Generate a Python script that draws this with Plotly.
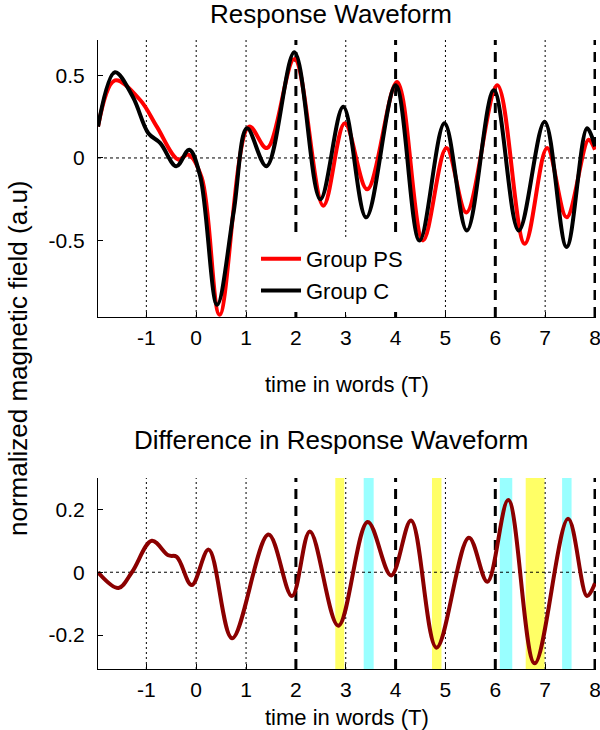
import plotly.graph_objects as go

# ---------------- data ----------------
c_x = [-1.97, -1.63, -1.27, -0.96, -0.72, -0.40, -0.14, 0.08, 0.42, 0.75, 1.02, 1.41,
       1.97, 2.49, 2.95, 3.41, 4.00, 4.48, 4.98, 5.43, 5.97, 6.47, 6.99, 7.43, 7.84, 8.00]
c_y = [0.19, 0.52, 0.37, 0.15, 0.09, -0.05, 0.05, -0.11, -0.89, -0.33, 0.18, -0.05,
       0.64, -0.25, 0.31, -0.36, 0.44, -0.50, 0.21, -0.44, 0.41, -0.44, 0.22, -0.54, 0.18, 0.07]

ps_x = [-1.97, -1.63, -1.12, -0.79, -0.36, -0.16, 0.11, 0.47, 1.06, 1.42, 1.97, 2.55,
        2.98, 3.43, 4.03, 4.55, 5.02, 5.42, 6.04, 6.59, 7.04, 7.43, 7.87, 8.00]
ps_y = [0.19, 0.47, 0.35, 0.19, -0.01, 0.02, -0.12, -0.95, 0.19, 0.06, 0.60, -0.29,
        0.21, -0.19, 0.46, -0.50, 0.06, -0.33, 0.44, -0.52, 0.06, -0.36, 0.11, 0.05]

diff_x = [-1.97, -1.56, -1.29, -0.89, -0.56, -0.39, -0.09, 0.25, 0.72, 1.45, 1.92, 2.28,
          2.85, 3.44, 3.91, 4.31, 4.82, 5.47, 5.84, 6.26, 6.79, 7.46, 7.84, 8.00]
diff_y = [0.0, -0.05, 0.0, 0.10, 0.054, 0.049, -0.041, 0.072, -0.21, 0.12, -0.076, 0.13,
          -0.17, 0.16, -0.01, 0.165, -0.24, 0.11, -0.03, 0.23, -0.29, 0.17, -0.076, -0.035]

yellow_bands = [(2.79, 2.97), (4.73, 4.92), (6.61, 6.99)]
cyan_bands = [(3.36, 3.56), (6.09, 6.34), (7.34, 7.53)]

x_ticks = [-1, 0, 1, 2, 3, 4, 5, 6, 7, 8]
x_ticktext = ["-1", "0", "1", "2", "3", "4", "5", "6", "7", "8"]
top_yticks = [-0.5, 0, 0.5]
top_yticktext = ["-0.5", "0", "0.5"]
bot_yticks = [-0.2, 0, 0.2]
bot_yticktext = ["-0.2", "0", "0.2"]
thin_lines = [-1, 0, 1, 3, 5, 7]
thick_lines = [2, 4, 6, 8]

FONT = "Liberation Sans, Arial, sans-serif"

fig = go.Figure()
fig.add_trace(go.Scatter(x=ps_x, y=ps_y, mode="lines", line=dict(color="#ff0000", width=4, shape="spline"),
                         name="Group PS", xaxis="x", yaxis="y", legendgroup="a"))
fig.add_trace(go.Scatter(x=c_x, y=c_y, mode="lines", line=dict(color="#000000", width=4, shape="spline"),
                         name="Group C", xaxis="x", yaxis="y", legendgroup="b"))
fig.add_trace(go.Scatter(x=diff_x, y=diff_y, mode="lines", line=dict(color="#8b0000", width=4, shape="spline"),
                         name="diff", xaxis="x2", yaxis="y2", showlegend=False))

shapes = []
for (a, b) in yellow_bands:
    shapes.append(dict(type="rect", xref="x2", yref="y2 domain", x0=a, x1=b, y0=0, y1=1,
                       fillcolor="#ffff66", line=dict(width=0), layer="below"))
for (a, b) in cyan_bands:
    shapes.append(dict(type="rect", xref="x2", yref="y2 domain", x0=a, x1=b, y0=0, y1=1,
                       fillcolor="#99ffff", line=dict(width=0), layer="below"))
for xa, ya in (("x", "y"), ("x2", "y2")):
    for v in thin_lines:
        shapes.append(dict(type="line", xref=xa, yref=ya + " domain", x0=v, x1=v, y0=0, y1=1,
                           line=dict(color="black", width=1, dash="2px,3px"), layer="below"))
    for v in thick_lines:
        shapes.append(dict(type="line", xref=xa, yref=ya + " domain", x0=v, x1=v, y0=0, y1=1,
                           line=dict(color="black", width=3, dash="10px,7px"), layer="below"))
    shapes.append(dict(type="line", xref=xa + " domain", yref=ya, x0=0, x1=1, y0=0, y1=0,
                       line=dict(color="black", width=1, dash="3px,3px"), layer="below"))

axis_common = dict(showline=True, linecolor="black", linewidth=1, mirror=False, showgrid=False,
                   zeroline=False, ticks="inside", ticklen=5, tickcolor="black", tickwidth=1,
                   ticklabeloverflow="allow", automargin=False,
                   tickfont=dict(family=FONT, size=21, color="black"))

H_TOP, H_BOT = 40, 61
plot_h = 730 - H_TOP - H_BOT


def py(p):
    return (730 - H_BOT - p) / plot_h


def ann(text, x, y, size, angle=0):
    return dict(text=text, x=x, y=y, xref="paper", yref="paper", showarrow=False,
                xanchor="center", yanchor="middle", textangle=angle,
                font=dict(family=FONT, size=size, color="black"))


annotations = [
    ann("Response Waveform", 0.468, py(14), 26),
    ann("Difference in Response Waveform", 0.468, py(440), 26),
    ann("time in words (T)", 0.5, py(385), 22),
    ann("time in words (T)", 0.5, py(717), 22),
    ann("normalized magnetic field (a.u)", (18 - 98) / 498, py(358), 26, -90),
]

fig.update_layout(
    width=600, height=730,
    margin=dict(l=98, r=4, t=H_TOP, b=H_BOT, autoexpand=False),
    paper_bgcolor="white", plot_bgcolor="white",
    font=dict(family=FONT, color="black"),
    xaxis=dict(axis_common, domain=[0, 1], range=[-1.97, 8.02], tickvals=x_ticks, ticktext=x_ticktext,
               anchor="y", ticklabelstandoff=2),
    yaxis=dict(axis_common, domain=[py(317), 1.0], range=[-0.964, 0.715], tickvals=top_yticks,
               ticktext=top_yticktext, anchor="x", ticklabelstandoff=8),
    xaxis2=dict(axis_common, domain=[0, 1], range=[-1.97, 8.02], tickvals=x_ticks, ticktext=x_ticktext,
                anchor="y2", ticklabelstandoff=2),
    yaxis2=dict(axis_common, domain=[0, py(478)], range=[-0.308, 0.3], tickvals=bot_yticks,
                ticktext=bot_yticktext, anchor="x2", ticklabelstandoff=8),
    shapes=shapes,
    annotations=annotations,
    showlegend=True,
    legend=dict(x=(256 - 98) / 498, y=py(238), xanchor="left", yanchor="top", bgcolor="white",
                borderwidth=0, font=dict(family=FONT, size=22, color="black"),
                traceorder="grouped", tracegroupgap=0, itemwidth=40),
)

fig.write_html("out.html", config={"displayModeBar": False},
               post_script="document.body.style.margin='0';document.body.style.overflow='hidden';")
